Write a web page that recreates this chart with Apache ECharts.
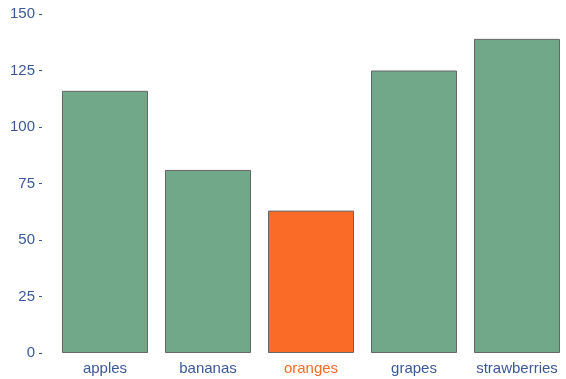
<!DOCTYPE html>
<html>
<head>
<meta charset="utf-8">
<script src="https://cdn.jsdelivr.net/npm/echarts@6/dist/echarts.min.js"></script>
<style>html,body{margin:0;padding:0;background:#fff;overflow:hidden}#root{width:580px;height:379px}</style>
</head>
<body>
<div id="root"></div>
<script>
const fruits = ['apples', 'bananas', 'oranges', 'grapes', 'strawberries'];
const counts = [116, 81, 63, 125, 139];
const highlight = 'oranges';

const green = '#72a88a', orange = '#f96b26', blue = '#3b5998';

const chart = echarts.init(document.getElementById('root'));
chart.setOption({
  animation: false,
  grid: { left: 53.5, top: 14, width: 515, bottom: 26 },
  xAxis: {
    type: 'category',
    data: fruits,
    axisLine: { show: false },
    axisTick: { show: false },
    axisLabel: {
      interval: 0,
      fontFamily: 'Liberation Sans, Arial, sans-serif',
      fontSize: 15,
      margin: 8,
      color: (v) => v === highlight ? orange : blue
    }
  },
  yAxis: {
    type: 'value',
    min: 0, max: 150, interval: 25,
    offset: 11.5,
    splitLine: { show: false },
    axisLine: { show: false },
    axisTick: { show: true, length: 3, lineStyle: { color: blue, width: 1 } },
    axisLabel: {
      fontFamily: 'Liberation Sans, Arial, sans-serif',
      fontSize: 15,
      margin: 7,
      color: blue
    }
  },
  series: [{
    type: 'bar',
    barCategoryGap: '16.5%',
    data: counts.map((v, i) => ({
      value: v,
      itemStyle: { color: fruits[i] === highlight ? orange : green }
    })),
    itemStyle: { borderColor: '#666666', borderWidth: 1 }
  }]
});
</script>
</body>
</html>
